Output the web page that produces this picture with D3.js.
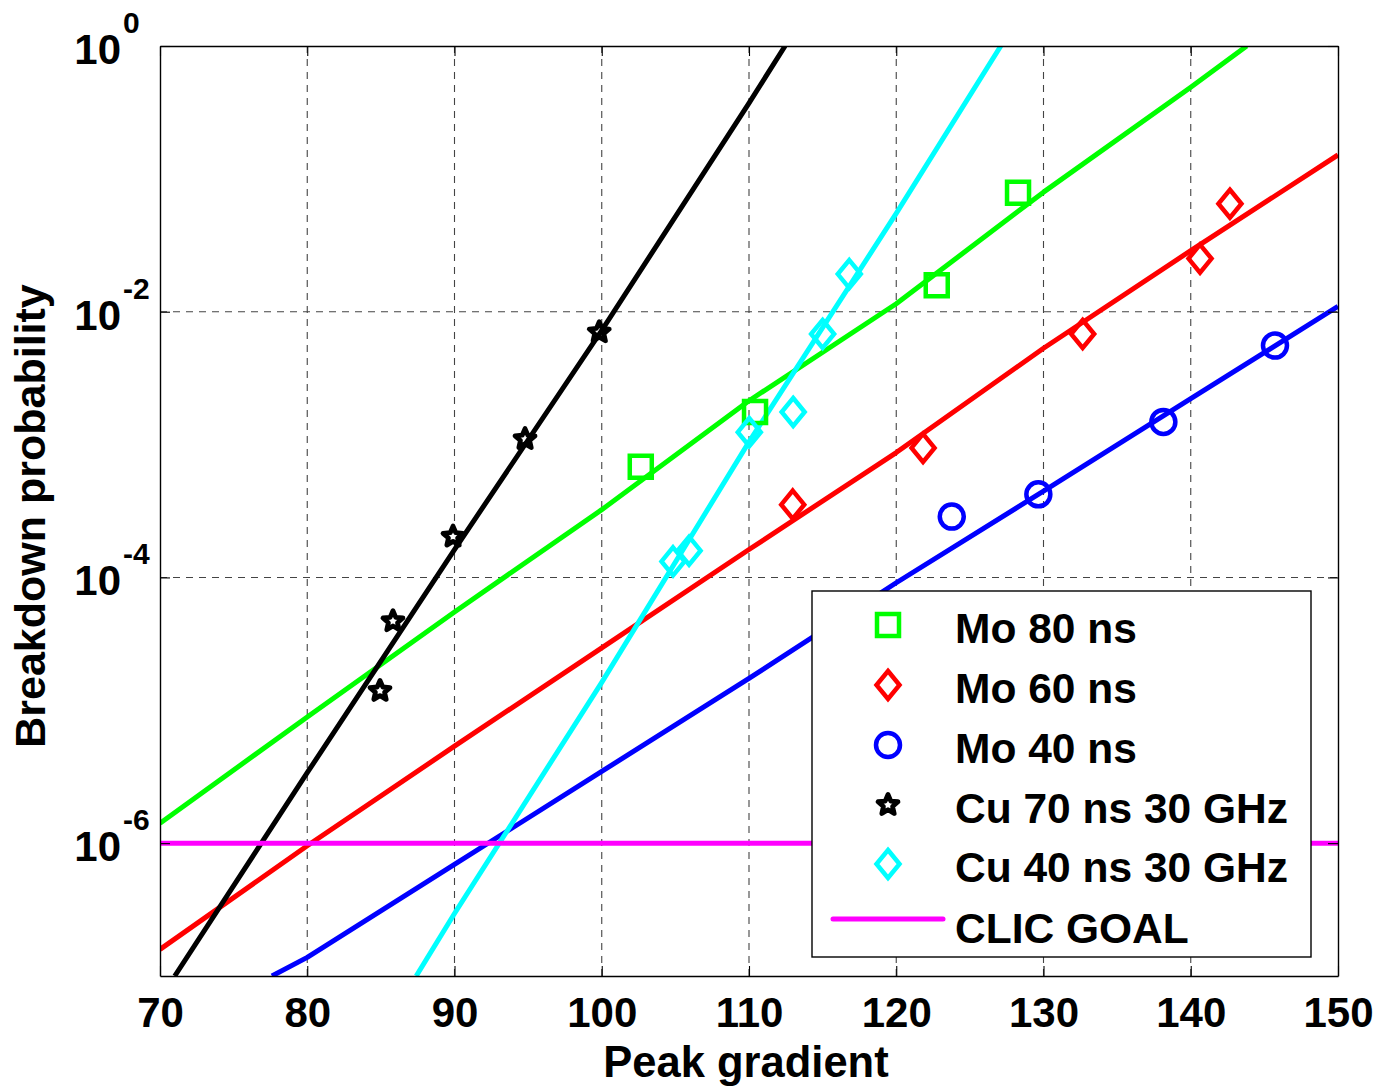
<!DOCTYPE html>
<html>
<head>
<meta charset="utf-8">
<script src="https://cdn.jsdelivr.net/npm/d3@7"></script>
<style>
  html, body { margin: 0; padding: 0; background: #fff; }
  svg text { font-family: "Liberation Sans", Arial, Helvetica, sans-serif; font-weight: bold; fill: #000; }
</style>
</head>
<body>
<svg id="chart" width="1381" height="1088"></svg>
<script>
// Axis ticks
const gradientTicks = [70, 80, 90, 100, 110, 120, 130, 140, 150];
const probTicks = [1e-6, 1e-4, 1e-2, 1];
const probExponents = ["-6", "-4", "-2", "0"];

// Measured breakdown probabilities (peak gradient, probability)
const mo80E = [102.65, 110.41, 122.75, 128.27];
const mo80P = [6.8e-4, 1.76e-3, 1.58e-2, 7.85e-2];
const mo60E = [112.97, 121.82, 132.66, 140.63, 142.66];
const mo60P = [3.53e-4, 9.44e-4, 6.8e-3, 2.51e-2, 6.5e-2];
const mo40E = [123.77, 129.65, 138.14, 145.72];
const mo40P = [2.87e-4, 4.22e-4, 1.48e-3, 5.56e-3];
const cu70E = [84.94, 85.82, 89.9, 94.79, 99.83];
const cu70P = [1.40e-5, 4.68e-5, 2.03e-4, 1.10e-3, 7.0e-3];
const cu40E = [104.84, 105.93, 110.02, 113.0, 115.0, 116.81];
const cu40P = [1.32e-4, 1.59e-4, 1.24e-3, 1.76e-3, 6.8e-3, 1.92e-2];

// Fitted scaling curves (peak gradient, log10 probability)
const mo80FitE = [70, 80, 90, 100, 110, 120, 130, 140, 143.8];
const mo80FitL = [-5.85, -5.05, -4.26, -3.49, -2.67, -1.94, -1.10, -0.31, 0];
const mo60FitE = [70, 80, 90, 100, 110, 120, 130, 140, 150];
const mo60FitL = [-6.80, -6.02, -5.27, -4.53, -3.79, -3.06, -2.275, -1.54, -0.82];
const mo40FitE = [77.6, 80, 90, 100, 110, 120, 130, 140, 150];
const mo40FitL = [-7, -6.86, -6.16, -5.46, -4.76, -4.04, -3.35, -2.655, -1.96];
const cu70FitE = [71.0, 80, 90, 100, 110, 112.45];
const cu70FitL = [-7, -5.47, -3.79, -2.14, -0.43, 0];
const cu40FitE = [87.4, 90, 100, 110, 120, 127.1];
const cu40FitL = [-7, -6.53, -4.79, -2.98, -1.26, 0];

// CLIC target
const goalE = [70, 150];
const goalP = [1e-6, 1e-6];

const legendLabels = ["Mo 80 ns", "Mo 60 ns", "Mo 40 ns", "Cu 70 ns 30 GHz", "Cu 40 ns 30 GHz", "CLIC GOAL"];

const svg = d3.select("#chart");
const L = 160, R = 1338, T = 46, B = 976;

const x = d3.scaleLinear().domain([70, 150]).range([L, R]);
const y = d3.scaleLog().domain([1e-7, 1]).range([B, T]);

svg.append("defs").append("clipPath").attr("id", "plotclip")
  .append("rect").attr("x", L).attr("y", T).attr("width", R - L).attr("height", B - T);

// Grid
const grid = svg.append("g").attr("stroke", "#444").attr("stroke-width", 1.1)
  .attr("stroke-dasharray", "7,6");
gradientTicks.slice(1, -1).forEach(v => {
  grid.append("line").attr("x1", x(v)).attr("x2", x(v)).attr("y1", T).attr("y2", B);
});
probTicks.slice(0, -1).forEach(v => {
  grid.append("line").attr("x1", L).attr("x2", R).attr("y1", y(v)).attr("y2", y(v));
});

// Marker shapes
function starPath(ro, ri) {
  let d = "";
  for (let i = 0; i < 10; i++) {
    const r = i % 2 === 0 ? ro : ri;
    const a = -Math.PI / 2 + i * Math.PI / 5;
    d += (i === 0 ? "M" : "L") + (r * Math.cos(a)).toFixed(2) + "," + (r * Math.sin(a)).toFixed(2);
  }
  return d + "Z";
}
const circlePath = d3.path();
circlePath.arc(0, 0, 12, 0, 2 * Math.PI);
const shapes = {
  square: "M-11,-11H11V11H-11Z",
  diamond: "M0,-14L11.5,0L0,14L-11.5,0Z",
  circle: circlePath.toString(),
  star: starPath(10.5, 4.8)
};
const markerWidth = { square: 4.5, diamond: 4.5, circle: 4.5, star: 4.8 };

const fits = [
  { E: mo80FitE, L: mo80FitL, color: "#00ff00" },
  { E: mo60FitE, L: mo60FitL, color: "#ff0000" },
  { E: mo40FitE, L: mo40FitL, color: "#0000ff" },
  { E: cu70FitE, L: cu70FitL, color: "#000000" },
  { E: cu40FitE, L: cu40FitL, color: "#00ffff" }
];
const measured = [
  { E: mo80E, P: mo80P, color: "#00ff00", shape: "square" },
  { E: mo60E, P: mo60P, color: "#ff0000", shape: "diamond" },
  { E: mo40E, P: mo40P, color: "#0000ff", shape: "circle" },
  { E: cu70E, P: cu70P, color: "#000000", shape: "star" },
  { E: cu40E, P: cu40P, color: "#00ffff", shape: "diamond" }
];

const plot = svg.append("g").attr("clip-path", "url(#plotclip)");
const line = d3.line().x(d => x(d[0])).y(d => y(d[1]));

fits.forEach(f => {
  const pts = f.E.map((e, i) => [e, Math.pow(10, f.L[i])]);
  plot.append("path").attr("d", line(pts)).attr("fill", "none")
    .attr("stroke", f.color).attr("stroke-width", 5).attr("stroke-linejoin", "round");
});

function drawMarker(g, s, cx, cy) {
  g.append("path").attr("d", shapes[s.shape])
    .attr("transform", `translate(${cx},${cy})`)
    .attr("fill", "none").attr("stroke", s.color).attr("stroke-width", markerWidth[s.shape])
    .attr("stroke-linejoin", s.shape === "star" ? "round" : "miter");
}

measured.forEach(s => {
  s.E.forEach((e, i) => drawMarker(plot, s, x(e), y(s.P[i])));
});

plot.append("path").attr("d", line(goalE.map((e, i) => [e, goalP[i]])))
  .attr("fill", "none").attr("stroke", "#ff00ff").attr("stroke-width", 5);

// Axes (box with inward ticks)
const axisStyle = g => {
  g.selectAll(".domain").attr("stroke", "#000").attr("stroke-width", 1.4);
  g.selectAll(".tick line").attr("stroke", "#000").attr("stroke-width", 1.1);
};
svg.append("g").attr("transform", `translate(0,${B})`)
  .call(d3.axisBottom(x).tickValues(gradientTicks).tickSize(-10).tickSizeOuter(0).tickPadding(21).tickFormat(d3.format("d")))
  .call(axisStyle)
  .call(g => g.selectAll(".tick text").attr("font-size", 42)
    .style("font-family", '"Liberation Sans", Arial, sans-serif').style("font-weight", "bold").attr("fill", "#000"));
svg.append("g").attr("transform", `translate(0,${T})`)
  .call(d3.axisTop(x).tickValues(gradientTicks).tickSize(-10).tickSizeOuter(0).tickFormat(""))
  .call(axisStyle);
svg.append("g").attr("transform", `translate(${L},0)`)
  .call(d3.axisLeft(y).tickValues(probTicks).tickSize(-10).tickSizeOuter(0).tickFormat(""))
  .call(axisStyle);
svg.append("g").attr("transform", `translate(${R},0)`)
  .call(d3.axisRight(y).tickValues(probTicks).tickSize(-10).tickSizeOuter(0).tickFormat(""))
  .call(axisStyle);

// Y tick labels as 10^n
probTicks.forEach((v, i) => {
  svg.append("text").attr("x", 121).attr("y", y(v) + 18)
    .attr("text-anchor", "end").attr("font-size", 42).text("10");
  svg.append("text").attr("x", 123).attr("y", y(v) - 13)
    .attr("text-anchor", "start").attr("font-size", 30).text(probExponents[i]);
});

// Axis titles
svg.append("text").attr("x", 746).attr("y", 1077).attr("text-anchor", "middle")
  .attr("font-size", 43.5).text("Peak gradient");
svg.append("text").attr("transform", "translate(45,516) rotate(-90)")
  .attr("text-anchor", "middle").attr("font-size", 43).text("Breakdown probability");

// Legend
const lg = svg.append("g");
lg.append("rect").attr("x", 812).attr("y", 591).attr("width", 499).attr("height", 366)
  .attr("fill", "#fff").attr("stroke", "#000").attr("stroke-width", 1.4);
const rowBase = [643, 703, 763, 823, 882, 943];
legendLabels.forEach((lab, i) => {
  lg.append("text").attr("x", 955).attr("y", rowBase[i]).attr("font-size", 42.5).text(lab);
  const cy = rowBase[i] - 18;
  if (i < measured.length) {
    drawMarker(lg, measured[i], 888, cy);
  } else {
    lg.append("line").attr("x1", 833).attr("x2", 943).attr("y1", cy - 6).attr("y2", cy - 6)
      .attr("stroke", "#ff00ff").attr("stroke-width", 5).attr("stroke-linecap", "round");
  }
});
</script>
</body>
</html>
